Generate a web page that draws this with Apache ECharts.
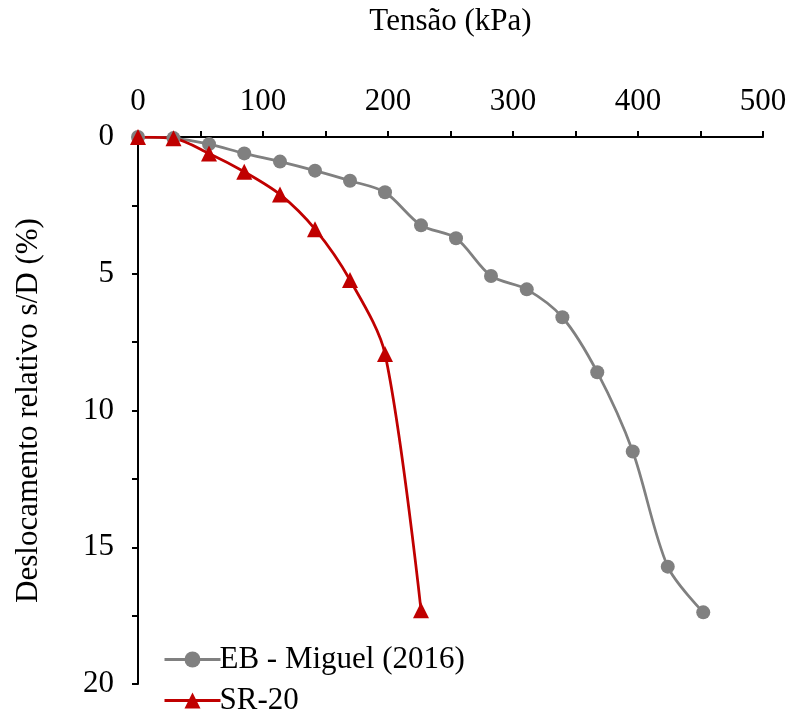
<!DOCTYPE html>
<html><head><meta charset="utf-8">
<script src="https://cdn.jsdelivr.net/npm/echarts@6/dist/echarts.min.js"></script>
<style>html,body{margin:0;padding:0;background:#fff}#c{width:790px;height:715px}</style>
</head><body><div id="c"></div>
<script>
const ebX = [0, 28.4, 56.8, 85, 113.6, 141.6, 169.6, 197.6, 226.4, 254.4, 282.4, 311, 339.5, 367.4, 395.8, 423.8, 452.2];
const ebY = [0, 0.04, 0.26, 0.6, 0.9, 1.23, 1.6, 2.02, 3.23, 3.7, 5.08, 5.57, 6.59, 8.6, 11.5, 15.71, 17.38];
const srX = [0, 28.4, 56.8, 85, 113.6, 141.6, 169.6, 197.6, 226.4];
const srY = [0, 0.05, 0.6, 1.27, 2.1, 3.37, 5.23, 7.93, 17.3];
const xTicks = [0, 100, 200, 300, 400, 500];
const yTicks = [0, 5, 10, 15, 20];
const seriesNames = ['EB - Miguel (2016)', 'SR-20'];
const xTitle = 'Tensão (kPa)';
const yTitle = 'Deslocamento relativo s/D (%)';

const font = 'Liberation Serif, Times New Roman, serif';
const FS = 31;
const chart = echarts.init(document.getElementById('c'));
const zip = (a, b) => a.map((v, i) => [v, b[i]]);
const legendBase = {
  orient: 'vertical', left: 158, itemWidth: 56, itemHeight: 20,
  lineStyle: {width: 3},
  textStyle: {fontFamily: font, fontSize: FS, color: '#000', padding: [0, 0, 0, -6]}
};
chart.setOption({
  animation: false,
  backgroundColor: '#fff',
  grid: {left: 138, right: 27, top: 137, bottom: 31},
  legend: [
    Object.assign({}, legendBase, {top: 639, data: [seriesNames[0]]}),
    Object.assign({}, legendBase, {top: 680, data: [seriesNames[1]]})
  ],
  xAxis: {
    type: 'value', position: 'top', min: 0, max: 500, interval: 50,
    name: xTitle, nameLocation: 'middle', nameGap: 100,
    nameTextStyle: {fontFamily: font, fontSize: FS, color: '#000'},
    axisLine: {show: true, lineStyle: {color: '#000', width: 2}},
    axisTick: {show: true, length: 6, lineStyle: {color: '#000', width: 2}},
    axisLabel: {
      fontFamily: font, fontSize: FS, color: '#000', margin: 20,
      formatter: v => xTicks.includes(v) ? String(v) : ''
    },
    splitLine: {show: false}
  },
  yAxis: {
    type: 'value', inverse: true, min: 0, max: 20, interval: 2.5,
    name: yTitle, nameLocation: 'middle', nameGap: 94, nameRotate: 90,
    nameTextStyle: {fontFamily: font, fontSize: FS, color: '#000'},
    axisLine: {show: true, lineStyle: {color: '#000', width: 2}},
    axisTick: {show: true, length: 6, lineStyle: {color: '#000', width: 2}},
    axisLabel: {
      fontFamily: font, fontSize: FS, color: '#000', margin: 24,
      formatter: v => yTicks.includes(v) ? String(v) : ''
    },
    splitLine: {show: false}
  },
  series: [
    {
      name: seriesNames[0], type: 'line', data: zip(ebX, ebY), smooth: 0.3,
      symbol: 'circle', symbolSize: 14,
      itemStyle: {color: '#808080'}, lineStyle: {color: '#808080', width: 2.75}
    },
    {
      name: seriesNames[1], type: 'line', data: zip(srX, srY), smooth: 0.3,
      symbol: 'triangle', symbolSize: 16,
      itemStyle: {color: '#C00000'}, lineStyle: {color: '#C00000', width: 2.75}
    }
  ]
});
</script></body></html>
